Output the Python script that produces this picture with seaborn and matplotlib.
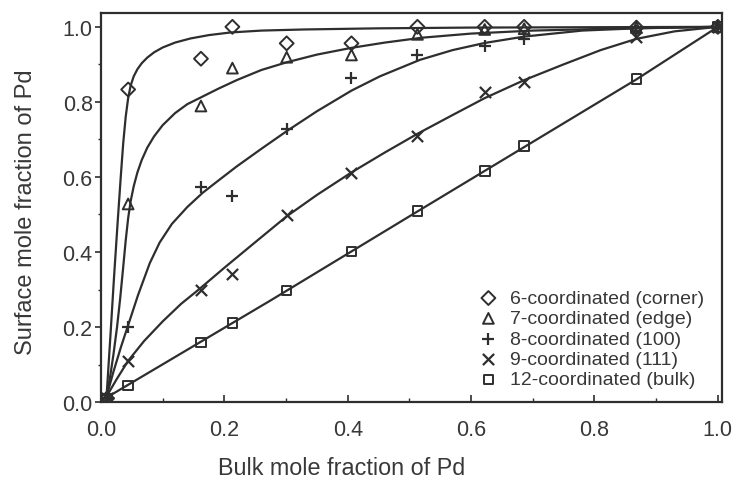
import matplotlib
matplotlib.use("Agg")
import matplotlib.pyplot as plt
import seaborn as sns
from matplotlib.ticker import MultipleLocator, FormatStrFormatter

# bulk mole fraction of Pd at the measured points
bulk_x = [0.01, 0.044, 0.162, 0.213, 0.301, 0.406, 0.513, 0.622, 0.686, 0.868, 1.0]

# surface mole fraction of Pd per site type
corner_y = [0.01, 0.833, 0.915, 1.0, 0.956, 0.956, 1.0, 1.0, 1.0, 0.998, 1.0]
edge_y = [0.01, 0.528, 0.789, 0.890, 0.919, 0.925, 0.98, 0.993, 0.995, 0.998, 1.0]
face100_y = [0.01, 0.199, 0.572, 0.55, 0.728, 0.864, 0.925, 0.948, 0.968, 0.99, 1.0]
face111_y = [0.01, 0.110, 0.30, 0.34, 0.499, 0.61, 0.71, 0.826, 0.854, 0.972, 1.0]
bulk_y = [0.01, 0.044, 0.159, 0.211, 0.297, 0.401, 0.51, 0.615, 0.682, 0.861, 1.0]

# fitted curves
corner_fit_x = [0.009, 0.015, 0.021, 0.027, 0.032, 0.036, 0.040, 0.044, 0.048, 0.053, 0.059,
                0.066, 0.075, 0.086, 0.100, 0.120, 0.145, 0.175, 0.21, 0.26, 0.33, 0.45,
                0.6, 0.8, 1.0]
corner_fit_y = [0.015, 0.17, 0.33, 0.48, 0.60, 0.69, 0.76, 0.81, 0.843, 0.868, 0.887,
                0.903, 0.918, 0.932, 0.945, 0.958, 0.969, 0.978, 0.985, 0.99, 0.993, 0.996,
                0.998, 0.999, 1.0]
edge_fit_x = [0.009, 0.015, 0.020, 0.026, 0.031, 0.036, 0.040, 0.044, 0.048, 0.053, 0.059,
              0.066, 0.075, 0.086, 0.10, 0.12, 0.14, 0.162, 0.19, 0.22, 0.26, 0.30, 0.35,
              0.406, 0.46, 0.52, 0.6, 0.7, 0.85, 1.0]
edge_fit_y = [0.015, 0.07, 0.125, 0.20, 0.275, 0.36, 0.43, 0.49, 0.535, 0.575, 0.612,
              0.645, 0.678, 0.708, 0.738, 0.77, 0.794, 0.812, 0.835, 0.858, 0.885, 0.905, 0.926,
              0.944, 0.958, 0.971, 0.982, 0.99, 0.996, 1.0]
face100_fit_x = [0.009, 0.02, 0.032, 0.044, 0.06, 0.079, 0.095, 0.115, 0.14, 0.165, 0.19,
                 0.22, 0.26, 0.301, 0.35, 0.406, 0.452, 0.517, 0.57, 0.622, 0.686, 0.78,
                 0.868, 1.0]
face100_fit_y = [0.015, 0.08, 0.145, 0.205, 0.285, 0.37, 0.425, 0.475, 0.52, 0.558, 0.59,
                 0.628, 0.675, 0.722, 0.775, 0.83, 0.868, 0.912, 0.938, 0.957, 0.974, 0.99,
                 0.996, 1.0]
face111_fit_x = [0.009, 0.025, 0.044, 0.07, 0.10, 0.13, 0.16, 0.2, 0.25, 0.301, 0.35, 0.406,
                 0.46, 0.513, 0.57, 0.622, 0.686, 0.75, 0.81, 0.868, 0.93, 1.0]
face111_fit_y = [0.015, 0.06, 0.11, 0.163, 0.215, 0.262, 0.302, 0.358, 0.426, 0.495, 0.552,
                 0.612, 0.665, 0.715, 0.765, 0.81, 0.858, 0.9, 0.938, 0.968, 0.988, 1.0]
bulk_fit_x = [0.009, 0.274, 0.513, 0.868, 1.0]
bulk_fit_y = [0.012, 0.27, 0.508, 0.86, 1.0]

labels = ["6-coordinated (corner)", "7-coordinated (edge)", "8-coordinated (100)",
          "9-coordinated (111)", "12-coordinated (bulk)"]
markers = ["D", "^", "+", "x", "s"]
sizes = [50, 60, 75, 65, 48]

sns.set_theme(style="ticks")
plt.rcParams["font.family"] = ["Liberation Sans", "DejaVu Sans"]
INK = "#2e2e2e"
TXT = "#383838"

fig = plt.figure(figsize=(7.4, 4.81), dpi=100)
ax = fig.add_axes([0.1365, 0.162, 0.839, 0.809])

fits = [(corner_fit_x, corner_fit_y), (edge_fit_x, edge_fit_y), (face100_fit_x, face100_fit_y),
        (face111_fit_x, face111_fit_y), (bulk_fit_x, bulk_fit_y)]
points = [corner_y, edge_y, face100_y, face111_y, bulk_y]

for fx, fy in fits:
    sns.lineplot(x=fx, y=fy, ax=ax, color=INK, linewidth=1.6, sort=False, estimator=None)

for ys, m, s, lab in zip(points, markers, sizes, labels):
    if m in ("+", "x"):
        sns.scatterplot(x=bulk_x, y=ys, ax=ax, marker=m, s=s, color=INK,
                        linewidth=1.6, label=lab, zorder=3)
    else:
        sns.scatterplot(x=bulk_x, y=ys, ax=ax, marker=m, s=s, color=INK,
                        facecolor="none", edgecolor=INK, linewidth=1.4, label=lab, zorder=3)

ax.set_xlim(0, 1.0065)
ax.set_ylim(0, 1.037)
ax.xaxis.set_major_locator(MultipleLocator(0.2))
ax.xaxis.set_minor_locator(MultipleLocator(0.1))
ax.yaxis.set_major_locator(MultipleLocator(0.2))
ax.yaxis.set_minor_locator(MultipleLocator(0.1))
ax.xaxis.set_major_formatter(FormatStrFormatter("%.1f"))
ax.yaxis.set_major_formatter(FormatStrFormatter("%.1f"))

ax.tick_params(axis="x", which="major", direction="in", length=5, width=1.2,
               color=INK, labelsize=15.5, labelcolor=TXT, pad=12)
ax.tick_params(axis="x", which="minor", direction="in", length=3, width=1.0, color=INK)
ax.tick_params(axis="y", which="major", direction="out", length=4, width=1.2,
               color=INK, labelsize=15.5, labelcolor=TXT, pad=2)
ax.tick_params(axis="y", which="minor", direction="out", length=2.5, width=1.0, color=INK)

for sp in ax.spines.values():
    sp.set_color(INK)
    sp.set_linewidth(1.6)

ax.set_xlabel("Bulk mole fraction of Pd", fontsize=16.8, color=TXT)
ax.set_ylabel("Surface mole fraction of Pd", fontsize=17, color=TXT)
ax.xaxis.set_label_coords(0.388, -0.138)
ax.yaxis.set_label_coords(-0.103, 0.49)

leg = ax.legend(loc="lower right", bbox_to_anchor=(0.993, 0.0), frameon=False,
                fontsize=14, labelspacing=0.14, handlelength=1.0, handletextpad=0.6,
                borderpad=0.2)
for t in leg.get_texts():
    t.set_color(TXT)

fig.savefig("out.png", dpi=100)
